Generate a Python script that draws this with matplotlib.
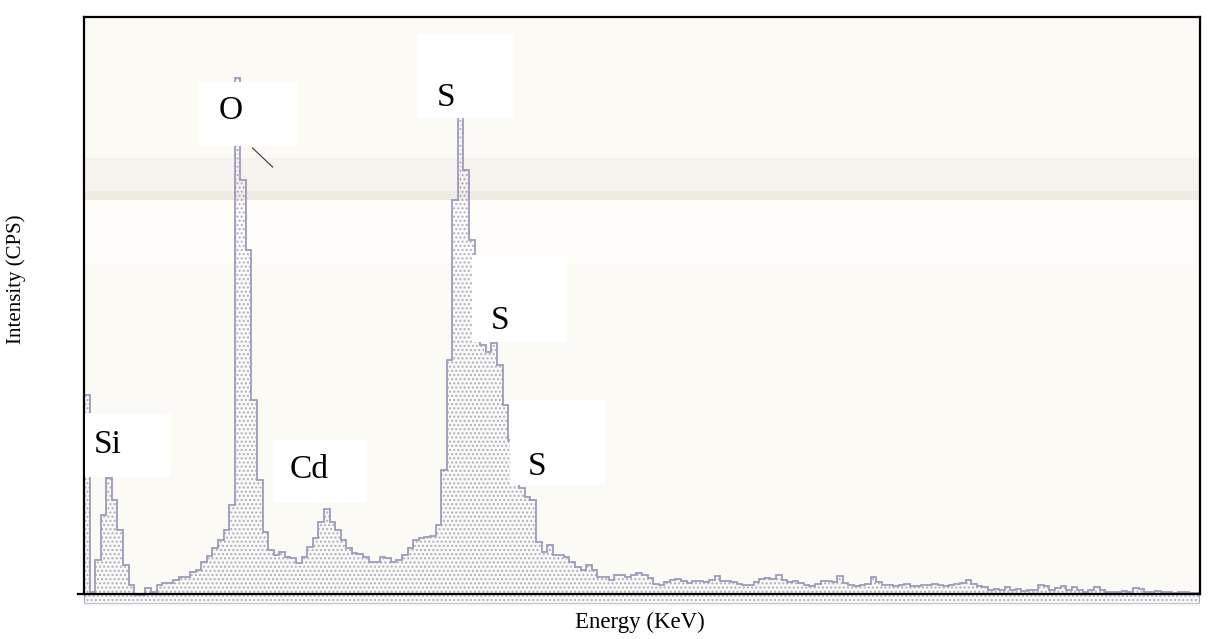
import numpy as np
import matplotlib
matplotlib.use("Agg")
import matplotlib.pyplot as plt

# ---------------- data ----------------
# channel width 0.1 keV, 0 - 20 keV, intensity in CPS (arbitrary scale)
channel_kev = 0.1
counts = [
    208, 11, 43, 88, 125, 103, 73, 38, 18, 8,
    8, 15, 11, 18, 20, 20, 23, 26, 26, 31,
    33, 41, 47, 55, 63, 73, 98, 525, 423, 353,
    203, 123, 71, 53, 48, 51, 46, 45, 40, 46,
    56, 65, 81, 94, 81, 73, 63, 55, 50, 49,
    46, 41, 41, 46, 45, 41, 43, 48, 55, 63,
    65, 66, 67, 78, 133, 243, 403, 568, 433, 363,
    273, 258, 251, 260, 238, 198, 163, 123, 115, 106,
    103, 61, 51, 58, 48, 48, 46, 41, 36, 33,
    38, 33, 26, 26, 23, 28, 28, 26, 28, 30,
    28, 25, 19, 18, 21, 23, 24, 22, 20, 22,
    22, 21, 23, 27, 22, 22, 21, 19, 18, 18,
    21, 24, 25, 24, 28, 23, 21, 22, 20, 18,
    17, 19, 22, 22, 21, 27, 20, 18, 17, 18,
    19, 26, 21, 18, 18, 17, 18, 19, 17, 17,
    18, 18, 19, 18, 17, 18, 19, 20, 23, 19,
    17, 16, 13, 14, 13, 16, 13, 14, 12, 13,
    13, 18, 17, 13, 15, 17, 13, 16, 13, 11,
    13, 16, 13, 11, 11, 11, 12, 11, 15, 14,
    11, 11, 12, 11, 11, 10, 11, 11, 10, 10,
]
peak_labels = ["Si", "O", "Cd", "S", "S", "S"]
x_label = "Energy (KeV)"
y_label = "Intensity (CPS)"

# ---------------- figure ----------------
W, H, DPI = 1208, 639, 100
fig = plt.figure(figsize=(W / DPI, H / DPI), dpi=DPI, facecolor="white")

def px_rect(x0, y0, x1, y1):
    return [x0 / W, 1 - y1 / H, (x1 - x0) / W, (y1 - y0) / H]

ax = fig.add_axes(px_rect(84, 17, 1200, 606))
ax.set_facecolor("#fcfaf4")

edges = np.arange(len(counts) + 1) * channel_kev
ax.set_xlim(edges[0], edges[-1])
ax.set_ylim(-3, 586)

# faint paper fold
ax.axhspan(403, 412, color="#eeeae4", lw=0, zorder=0)
ax.axhspan(412, 445, color="#f6f3ee", lw=0, zorder=0)
ax.axhspan(340, 403, color="#fefdfa", lw=0, zorder=0)

plt.rcParams["hatch.linewidth"] = 1.0
spec_col = "#9d9bba"
ax.stairs(counts, edges, baseline=0, fill=True, facecolor="none",
          edgecolor="#aeacc6", hatch="....", linewidth=0, zorder=1)
ax.stairs(counts, edges, baseline=0, color=spec_col, linewidth=1.3, zorder=2)
ax.axhline(0, color="#c8c6d6", lw=1.0, zorder=2)

# frame
for s in ["left", "right", "top"]:
    ax.spines[s].set_linewidth(1.6)
    ax.spines[s].set_color("black")
ax.spines["bottom"].set_visible(False)
ax.spines["left"].set_bounds(9, 586)
ax.spines["right"].set_bounds(9, 586)
ax.plot([-0.1, 20], [9, 9], color="black", lw=1.6, clip_on=False, zorder=5)
ax.set_xticks([])
ax.set_yticks([])

# white label boxes (scan annotations)
serif = ["Liberation Serif", "DejaVu Serif"]
boxes = [  # x0, x1 (keV), y0, y1 (CPS), text x, text y
    (0.02, 1.56, 126, 190, 0.43, 158),
    (2.04, 3.84, 457, 521, 2.63, 492),
    (3.39, 5.07, 100, 163, 4.03, 133),
    (5.97, 7.69, 485, 569, 6.49, 505),
    (6.95, 8.66, 261, 348, 7.46, 282),
    (7.63, 9.34, 118, 203, 8.12, 136),
]
for lab, (bx0, bx1, by0, by1, tx, ty) in zip(peak_labels, boxes):
    ax.add_patch(plt.Rectangle((bx0, by0), bx1 - bx0, by1 - by0,
                               facecolor="white", edgecolor="none", zorder=6))
    ax.text(tx, ty, lab, family=serif, fontsize=24, ha="center", va="center",
            zorder=7)

# small pen stroke near the O label
ax.plot([3.02, 3.38], [455, 436], color="#333333", lw=0.8, zorder=7)

fig.text(640 / W, 1 - 622 / H, x_label, family=serif, fontsize=16.5,
         ha="center", va="center")
fig.text(16 / W, 1 - 279 / H, y_label, family=serif, fontsize=15,
         rotation=90, ha="center", va="center")

fig.savefig("out.png", dpi=DPI, facecolor="white")
